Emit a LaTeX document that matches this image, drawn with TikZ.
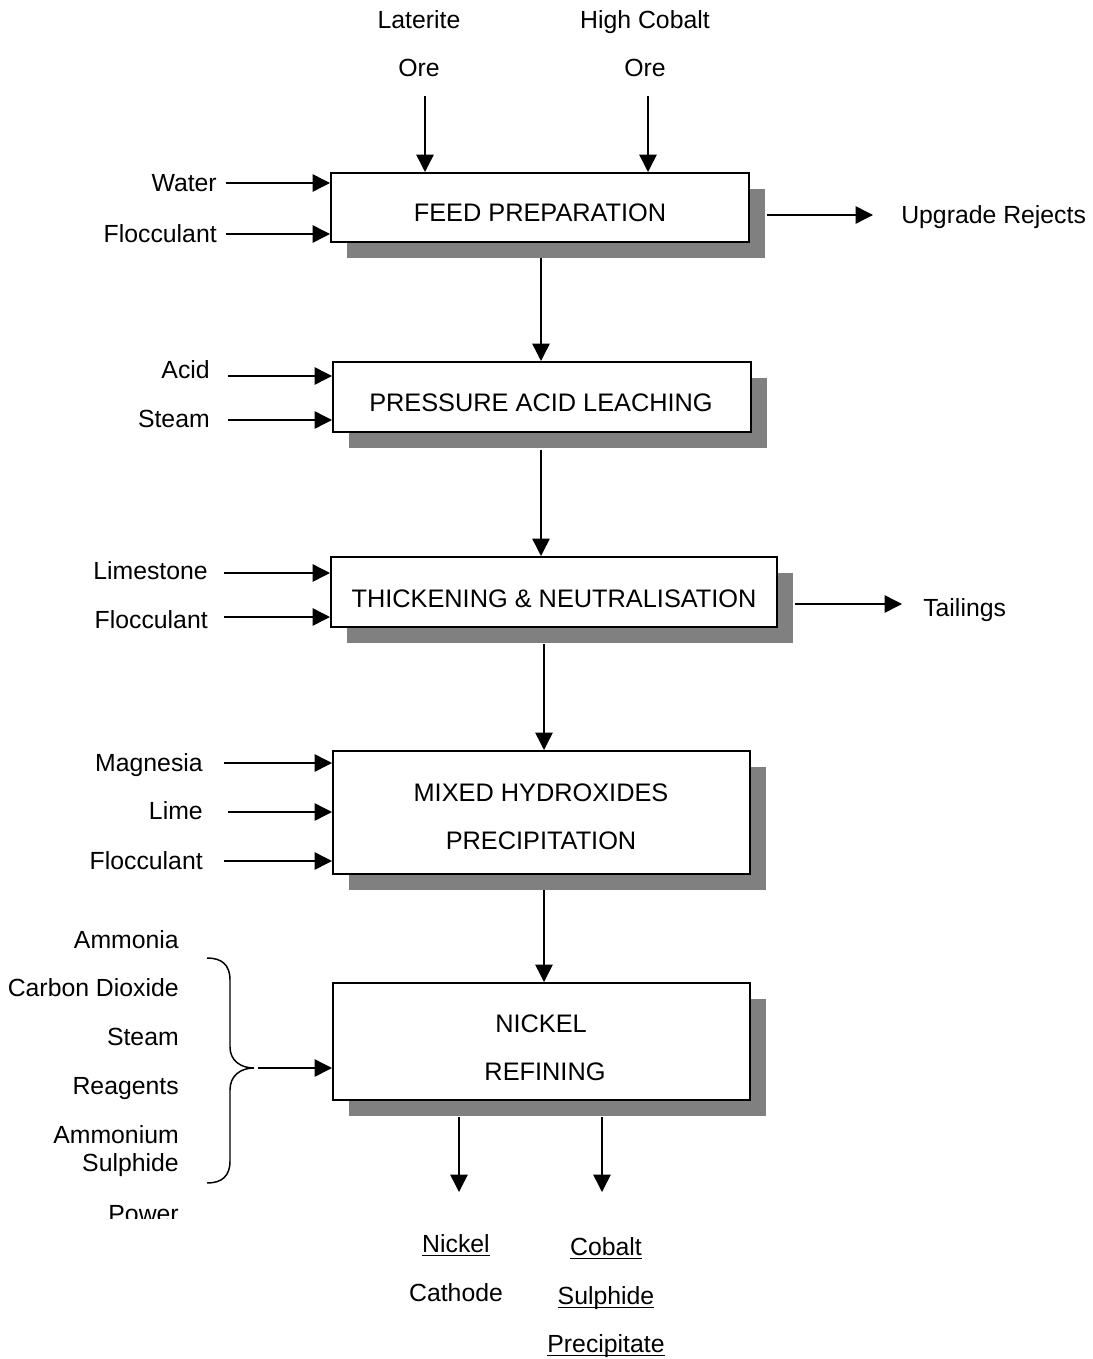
\documentclass[tikz,border=0pt]{standalone}
\usepackage{fontspec}
\setmainfont{Liberation Sans}
\usetikzlibrary{arrows.meta,shadows}
\newcommand{\myul}[1]{\setbox0\hbox{#1}\rlap{\rule[-2.4pt]{\wd0}{0.9pt}}\box0}
\begin{document}
\begin{tikzpicture}[x=0.75pt,y=-0.75pt,
  font=\fontsize{18.6pt}{36pt}\selectfont,
  arr/.style={-{Triangle[length=13pt,width=13pt]}, line width=1.1pt},
  procbox/.style={draw, fill=white, line width=1.5pt, inner sep=0pt,
    drop shadow={shadow xshift=12pt, shadow yshift=-12pt, fill=black!50, opacity=1}},
  lab/.style={inner sep=0pt, text height=13.4pt, text depth=0pt},
  boxtxt/.style={lab, font=\fontsize{19pt}{36pt}\selectfont, text height=13.7pt},
  labr/.style={lab, anchor=east}]
\useasboundingbox (0,0) rectangle (1092,1359);

% process boxes
\node[procbox, minimum width=313.5pt, minimum height=51.75pt] (b1) at (540,207.5) {};
\node[procbox, minimum width=313.5pt, minimum height=52.5pt] (b2) at (542,397) {};
\node[procbox, minimum width=334.5pt, minimum height=52.5pt] (b3) at (554,592) {};
\node[procbox, minimum width=312.75pt, minimum height=92.25pt] (b4) at (541.5,812.5) {};
\node[procbox, minimum width=312.75pt, minimum height=87.75pt] (b5) at (541.5,1041.5) {};
\node[boxtxt] (b1t) at (540,212) {FEED PREPARATION};
\node[boxtxt] (b2t) at (541,402) {PRESSURE ACID LEACHING};
\node[boxtxt] (b3t) at (554,598) {THICKENING \& NEUTRALISATION};
\node[boxtxt] (b4t) at (541,792) {MIXED HYDROXIDES};
\node[boxtxt] (b4u) at (541,840) {PRECIPITATION};
\node[boxtxt] (b5t) at (541,1023) {NICKEL};
\node[boxtxt] (b5u) at (545,1071) {REFINING};

% top inputs
\node[lab] (lat) at (419,20) {Laterite};
\node[lab] (ore1) at (419,68) {Ore};
\node[lab] (hc) at (645,20) {High Cobalt};
\node[lab] (ore2) at (645,68) {Ore};
\coordinate (s1) at (425,96);
\coordinate (s2) at (648,96);
\draw[arr] (s1) -- (s1 |- b1.north);
\draw[arr] (s2) -- (s2 |- b1.north);

% feed preparation side inputs
\node[labr] (water) at (217,183) {Water};
\node[labr] (floc1) at (217,234) {Flocculant};
\coordinate (w0) at (226,183);
\coordinate (f0) at (226,234);
\draw[arr] (w0) -- (w0 -| b1.west);
\draw[arr] (f0) -- (f0 -| b1.west);

% upgrade rejects
\node[lab, anchor=west] (upg) at (901,215) {Upgrade Rejects};
\coordinate (u0) at (767,215);
\coordinate (u1) at (873,215);
\draw[arr] (u0) -- (u1);

% main flow
\coordinate (m1) at (541,258);
\draw[arr] (m1) -- (m1 |- b2.north);
\coordinate (m2) at (541,450);
\draw[arr] (m2) -- (m2 |- b3.north);
\coordinate (m3) at (544,644);
\draw[arr] (m3) -- (m3 |- b4.north);
\coordinate (m4) at (544,890);
\draw[arr] (m4) -- (m4 |- b5.north);

% PAL inputs
\node[labr] (acid) at (210,370) {Acid};
\node[labr] (steam1) at (210,419) {Steam};
\coordinate (a0) at (228,376);
\coordinate (st0) at (228,420);
\draw[arr] (a0) -- (a0 -| b2.west);
\draw[arr] (st0) -- (st0 -| b2.west);

% thickening inputs
\node[labr] (lime1) at (208,571) {Limestone};
\node[labr] (floc2) at (208,620) {Flocculant};
\coordinate (ls0) at (224,573);
\coordinate (fl2) at (224,617);
\draw[arr] (ls0) -- (ls0 -| b3.west);
\draw[arr] (fl2) -- (fl2 -| b3.west);

% tailings
\node[lab, anchor=west] (tail) at (923,608) {Tailings};
\coordinate (t0) at (795,604);
\coordinate (t1) at (902,604);
\draw[arr] (t0) -- (t1);

% mixed hydroxides inputs
\node[labr] (mag) at (203,763) {Magnesia};
\node[labr] (limeb) at (203,811) {Lime};
\node[labr] (floc3) at (203,861) {Flocculant};
\coordinate (mg0) at (224,763);
\coordinate (lm0) at (228,812);
\coordinate (fl3) at (224,861);
\draw[arr] (mg0) -- (mg0 -| b4.west);
\draw[arr] (lm0) -- (lm0 -| b4.west);
\draw[arr] (fl3) -- (fl3 -| b4.west);

% nickel refining inputs
\node[labr] (amm) at (179,940) {Ammonia};
\node[labr] (co2) at (179,988) {Carbon Dioxide};
\node[labr] (steam2) at (179,1037) {Steam};
\node[labr] (reag) at (179,1086) {Reagents};
\node[labr] (ammon) at (179,1135) {Ammonium};
\node[labr] (sulph) at (179,1163) {Sulphide};
\begin{scope}
\clip (0,1190) rectangle (300,1218);
\node[labr] (power) at (179,1214) {Power};
\end{scope}
\draw[line width=1.1pt] (207,958) .. controls (222,958) and (230,965) .. (230,980)
  -- (230,1047) .. controls (230,1060) and (240,1068) .. (254,1068)
  .. controls (240,1068) and (230,1076) .. (230,1090)
  -- (230,1161) .. controls (230,1176) and (222,1183) .. (207,1183);
\coordinate (br0) at (258,1068);
\draw[arr] (br0) -- (br0 -| b5.west);

% outputs
\coordinate (o1) at (459,1117);
\coordinate (o2) at (602,1117);
\coordinate (o1e) at (459,1192);
\coordinate (o2e) at (602,1192);
\draw[arr] (o1) -- (o1e);
\draw[arr] (o2) -- (o2e);
\node[lab] (nick) at (456,1244) {\myul{Nickel}};
\node[lab] (cath) at (456,1293) {Cathode};
\node[lab] (cob) at (606,1247) {\myul{Cobalt}};
\node[lab] (sul) at (606,1296) {\myul{Sulphide}};
\node[lab] (prec) at (606,1344) {\myul{Precipitate}};
\end{tikzpicture}
\end{document}
